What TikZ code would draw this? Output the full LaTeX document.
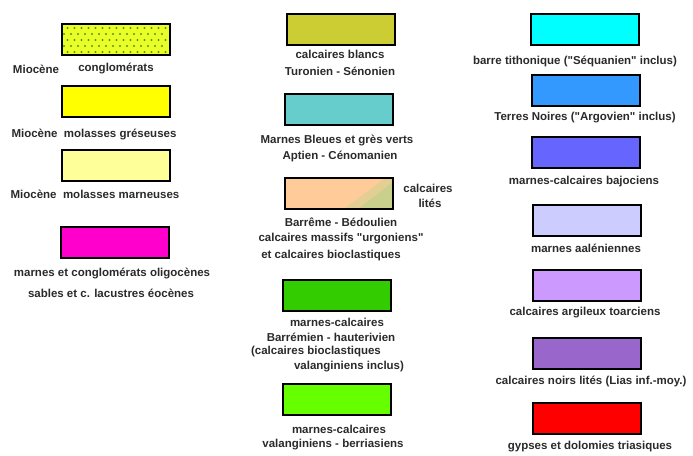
\documentclass[tikz,border=0pt]{standalone}
\usepackage{fontspec}
\setmainfont{Liberation Sans}
\newfontfamily\lf{Liberation Sans}
\definecolor{txt}{HTML}{2A2A2A}
\definecolor{cA}{RGB}{232,255,40}
\definecolor{cAdot}{RGB}{100,140,30}
\definecolor{cB}{HTML}{FFFF00}
\definecolor{cC}{HTML}{FFFF99}
\definecolor{cD}{HTML}{FF00CC}
\definecolor{cE}{HTML}{CCCC33}
\definecolor{cF}{HTML}{66CCCC}
\definecolor{cG}{HTML}{FFCC99}
\definecolor{cGg}{HTML}{C8D08C}
\definecolor{cH}{HTML}{33CC00}
\definecolor{cI}{HTML}{66FF00}
\definecolor{cJ}{HTML}{00FFFF}
\definecolor{cK}{HTML}{3399FF}
\definecolor{cL}{HTML}{6666FF}
\definecolor{cM}{HTML}{CCCCFF}
\definecolor{cN}{HTML}{CC99FF}
\definecolor{cO}{HTML}{9966CC}
\definecolor{cP}{HTML}{FF0000}
\begin{document}
\begin{tikzpicture}[x=1pt,y=-1pt,
  legbox/.style={draw=black,line width=2pt,minimum width=108pt,minimum height=31pt,inner sep=0pt},
  lab/.style={font=\lf\bfseries\fontsize{11.5}{12}\selectfont,text=txt,inner sep=0pt,anchor=center}]
\useasboundingbox (0,0) rectangle (693,455);
% column 1
\node[legbox,fill=cA] (b1) at (116,39) {};
\foreach \r [count=\i] in {28,34,40,46,52}{
  \pgfmathsetmacro{\off}{mod(\i,2)*3.5}
  \foreach \c in {0,...,14}{
    \fill[cAdot] ({64+\off+\c*7},\r) circle (1.2pt);
  }
}
\node[legbox,draw=black,line width=2pt,fill=none] at (116,39) {};
\node[lab] (t1a) at (36,69) {Miocène};
\node[lab] (t1b) at (116,69) {conglomérats};
\node[legbox,fill=cB] (b2) at (116,101) {};
\node[lab] (t2) at (94,134) {Miocène\ \ molasses gréseuses};
\node[legbox,fill=cC] (b3) at (116,165) {};
\node[lab] (t3) at (95,194) {Miocène\ \ molasses marneuses};
\node[legbox,fill=cD] (b4) at (115,242) {};
\node[lab] (t4a) at (112,273) {marnes et conglomérats oligocènes};
\node[lab] (t4b) at (111,293) {sables et c. lacustres éocènes};
% column 2
\node[legbox,fill=cE] (b5) at (341,29) {};
\node[lab] (t5a) at (340,54) {calcaires blancs};
\node[lab] (t5b) at (340,71) {Turonien - Sénonien};
\node[legbox,fill=cF] (b6) at (339,109) {};
\node[lab] (t6a) at (337,140) {Marnes Bleues et grès verts};
\node[lab] (t6b) at (340,156) {Aptien - Cénomanien};
\node[legbox,fill=cG] (b7) at (339,193.5) {};
\fill[cG!50!cGg] (344,209) -- (393,209) -- (393,178) -- (385,178) -- cycle;
\fill[cGg] (358,209) -- (393,209) -- (393,182) -- cycle;
\node[legbox,fill=none] at (339,193.5) {};
\node[lab] (t7r1) at (428,188) {calcaires};
\node[lab] (t7r2) at (430,203) {lités};
\node[lab] (t7a) at (341,222) {Barrême - Bédoulien};
\node[lab] (t7b) at (341,239) {calcaires massifs "urgoniens"};
\node[lab] (t7c) at (331,256) {et calcaires bioclastiques};
\node[legbox,fill=cH] (b8) at (337,295) {};
\node[lab] (t8a) at (337,322) {marnes-calcaires};
\node[lab] (t8b) at (331,337) {Barrémien - hauterivien};
\node[lab] (t8c) at (316,352) {(calcaires bioclastiques};
\node[lab] (t8d) at (349,367) {valanginiens inclus)};
\node[legbox,fill=cI] (b9) at (337,399.5) {};
\node[lab] (t9a) at (339,429) {marnes-calcaires};
\node[lab] (t9b) at (333,445) {valanginiens - berriasiens};
% column 3
\node[legbox,fill=cJ] (b10) at (585,29) {};
\node[lab] (t10) at (575,61) {barre tithonique ("Séquanien" inclus)};
\node[legbox,fill=cK] (b11) at (586,90) {};
\node[lab] (t11) at (585,118) {Terres Noires ("Argovien" inclus)};
\node[legbox,fill=cL] (b12) at (586,152.5) {};
\node[lab] (t12) at (584,182) {marnes-calcaires bajociens};
\node[legbox,fill=cM] (b13) at (587,220) {};
\node[lab] (t13) at (586,248) {marnes aaléniennes};
\node[legbox,fill=cN] (b14) at (587,285) {};
\node[lab] (t14) at (585,313) {calcaires argileux toarciens};
\node[legbox,fill=cO] (b15) at (587,353.5) {};
\node[lab] (t15) at (591,381) {calcaires noirs lités (Lias inf.-moy.)};
\node[legbox,fill=cP] (b16) at (587,418.5) {};
\node[lab] (t16) at (590,447) {gypses et dolomies triasiques};
\end{tikzpicture}
\end{document}
